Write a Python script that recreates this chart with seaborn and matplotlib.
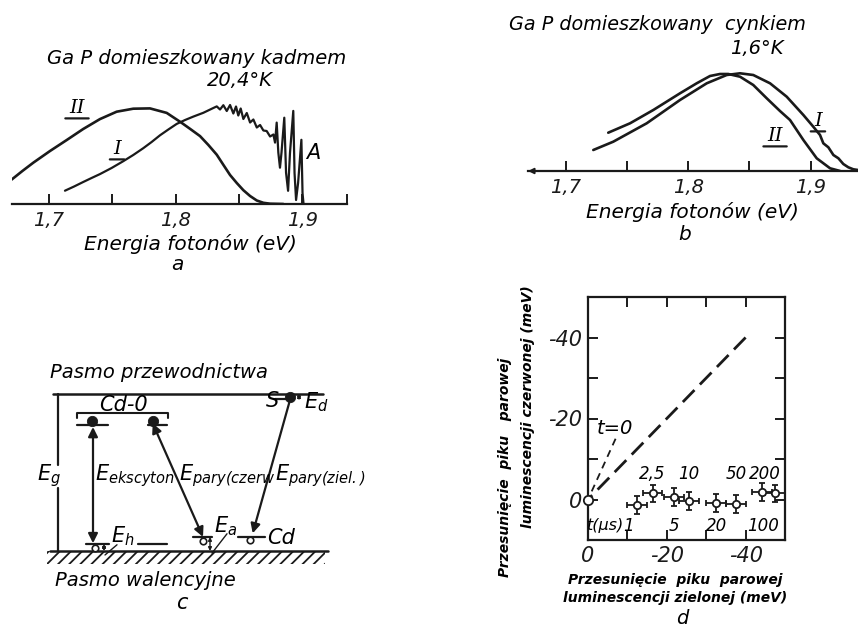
import matplotlib
matplotlib.use("Agg")
import matplotlib.pyplot as plt
from matplotlib.transforms import offset_copy
from matplotlib.ticker import FixedLocator, FixedFormatter
import seaborn as sns
import pandas as pd

# ---------------- data ----------------
# panel a: GaP doped with Cd, 20.4 K  (photon energy eV, relative intensity)
a_II_E = [1.6705, 1.6790, 1.6876, 1.7008, 1.7139, 1.7270, 1.7402, 1.7534, 1.7665, 1.7797,
          1.7929, 1.8042, 1.8115, 1.8192, 1.8258, 1.8324, 1.8377, 1.8429, 1.8482, 1.8534,
          1.8587, 1.8640, 1.8692, 1.8745, 1.8850]
a_II_I = [24.4, 33.0, 41.3, 53.0, 63.9, 75.0, 84.9, 92.3, 95.3, 95.6,
          91.1, 81.6, 75.0, 67.9, 59.0, 49.3, 39.0, 29.0, 21.0, 13.8,
          8.0, 3.5, 1.2, 0.3, 0.0]
a_I_E = [1.7126, 1.7198, 1.7270, 1.7336, 1.7402, 1.7494, 1.7586, 1.7665, 1.7744, 1.7810,
         1.7876, 1.7942, 1.8008, 1.8074, 1.8139, 1.8218, 1.8297, 1.8324, 1.8350, 1.8376,
         1.8403, 1.8429, 1.8455, 1.8476, 1.8494, 1.8513, 1.8534, 1.8561, 1.8587, 1.8613,
         1.8640, 1.8666, 1.8692, 1.8718, 1.8745, 1.8771, 1.8784, 1.8797, 1.8810, 1.8823,
         1.8835, 1.8857, 1.8871, 1.8887, 1.8902, 1.8928, 1.8938, 1.8950, 1.8966, 1.8992,
         1.9001, 1.9009]
a_I_I = [13.3, 17.5, 22.0, 26.0, 29.9, 36.0, 42.8, 49.0, 55.8, 62.0,
         68.7, 74.5, 80.1, 84.0, 87.4, 91.2, 96.0, 97.6, 94.5, 98.8,
         93.0, 99.0, 90.5, 97.5, 88.5, 95.5, 85.0, 91.0, 81.5, 84.5,
         76.5, 79.0, 73.5, 73.0, 67.5, 69.5, 61.4, 81.4, 51.4, 36.3,
         51.3, 86.3, 31.2, 13.2, 51.1, 93.1, 31.0, 4.0, 21.0, 64.2,
         10.9, 0.0]
a_ticks = [1.7, 1.75, 1.8, 1.85, 1.9, 1.935]
a_ticklabels = ["1,7", "", "1,8", "", "1,9", ""]

# panel b: GaP doped with Zn, 1.6 K
b_II_E = [1.7348, 1.7526, 1.7716, 1.7934, 1.8070, 1.8179, 1.8260, 1.8328, 1.8424, 1.8532,
          1.8642, 1.8750, 1.8832, 1.8941, 1.9050, 1.9159, 1.9241]
b_II_I = [38.3, 47.7, 61.0, 77.7, 87.7, 95.0, 97.0, 97.0, 94.3, 86.0,
          72.7, 60.0, 51.0, 31.0, 12.7, 2.7, 0.0]
b_I_E = [1.7226, 1.7389, 1.7662, 1.7934, 1.8152, 1.8315, 1.8424, 1.8532, 1.8669, 1.8805,
         1.8941, 1.9022, 1.9077, 1.9104, 1.9145, 1.9186, 1.9227, 1.9267, 1.9308, 1.9349,
         1.9387]
b_I_I = [21.0, 29.3, 47.7, 71.0, 87.7, 96.0, 97.7, 96.0, 87.7, 74.3,
         56.0, 44.3, 36.0, 27.7, 23.7, 16.0, 12.7, 7.0, 3.7, 1.7, 1.0]
b_ticks = [1.7, 1.75, 1.8, 1.85, 1.9]
b_ticklabels = ["1,7", "", "1,8", "", "1,9"]

# panel d: peak shift of red vs green pair luminescence (meV)
d_green = [-12.4, -16.4, -21.8, -25.6, -32.4, -37.5, -44.2, -47.5]
d_red = [1.4, -1.5, -0.7, 0.3, 0.8, 1.1, -1.9, -1.5]
d_xerr = [2.5, 2.5, 2.5, 2.5, 2.5, 2.5, 2.5, 2.5]
d_yerr = [2.2, 2.2, 2.2, 2.2, 2.2, 2.2, 2.2, 2.2]
d_times = ["1", "2,5", "5", "10", "20", "50", "100", "200"]
d_time_x = [-10.4, -16.4, -21.8, -25.6, -32.7, -37.7, -44.4, -44.8]
d_time_y = [6.5, -6.3, 6.5, -6.3, 6.5, -6.3, 6.5, -6.3]
d_long_x = [0, -40]
d_long_y = [0, -40]
d_t0_x = [0, -7]
d_t0_y = [0, -15]
d_ticks = [0, -10, -20, -30, -40]
d_ticklabels = ["0", "", "-20", "", "-40"]

# panel c: level scheme (x: position, y: energy, 0 = valence band, 1 = conduction band)
c_cond_x = [53, 323]
c_val_x = [50, 328]
c_levels = {  # name: (x0, x1, y)
    "cd0_a": (77, 108, 0.80), "cd0_b": (148, 167, 0.80), "S": (275, 293, 0.968),
    "Eh": (86, 109, 0.045), "Eh2": (138, 167, 0.045), "Ea": (193, 212, 0.09),
    "Cd": (238, 265, 0.09)}
c_electrons_x = [92, 153, 290]
c_electrons_y = [0.83, 0.83, 0.98]
c_holes_x = [95, 203, 250]
c_holes_y = [0.022, 0.062, 0.07]

# ---------------- figure ----------------
sns.set_theme(style="white")
plt.rcParams["font.family"] = ["DejaVu Sans"]
plt.rcParams["font.style"] = "italic"
plt.rcParams["mathtext.fontset"] = "dejavusans"
plt.rcParams["hatch.linewidth"] = 1.3
plt.rcParams["text.color"] = "black"
plt.rcParams["axes.labelcolor"] = "black"
plt.rcParams["xtick.color"] = "black"
plt.rcParams["ytick.color"] = "black"
plt.rcParams["axes.edgecolor"] = "black"

W, H = 858, 628
fig = plt.figure(figsize=(W / 100, H / 100), dpi=100)
fig.patch.set_facecolor("white")


def rect(x0, y0, x1, y1):
    return [x0 / W, 1 - y1 / H, (x1 - x0) / W, (y1 - y0) / H]


def ftext(x, y, s, **kw):
    kw.setdefault("ha", "center")
    kw.setdefault("va", "center")
    kw.setdefault("color", "black")
    fig.text(x / W, 1 - y / H, s, **kw)


def underlined(ax, x, y, s, size=14):
    ax.text(x, y, s, ha="center", va="bottom", fontsize=size, family="DejaVu Serif",
            style="italic", color="black")
    w = 3.2 * len(s) + 2
    ax.annotate("", xy=(x, y), xytext=(x, y),
                xycoords=offset_copy(ax.transData, fig=fig, x=w, y=-1, units="points"),
                textcoords=offset_copy(ax.transData, fig=fig, x=-w, y=-1, units="points"),
                arrowprops=dict(arrowstyle="-", lw=1.6, color="k", shrinkA=0, shrinkB=0))


def spectrum_axes(r, xlim, ylim, ticks, labels):
    ax = fig.add_axes(r)
    ax.set_facecolor("none")
    ax.set_xlim(*xlim)
    ax.set_ylim(*ylim)
    for s in ["top", "left", "right"]:
        ax.spines[s].set_visible(False)
    ax.spines["bottom"].set_linewidth(1.6)
    ax.spines["bottom"].set_color("k")
    ax.xaxis.set_major_locator(FixedLocator(ticks))
    ax.xaxis.set_major_formatter(FixedFormatter(labels))
    ax.tick_params(axis="x", direction="in", length=7, width=1.4, labelsize=14, pad=5,
                   bottom=True, colors="k")
    ax.set_yticks([])
    return ax


# ----- panel a -----
ax_a = spectrum_axes(rect(12, 94, 347, 204), (1.6708, 1.9352), (0, 110), a_ticks, a_ticklabels)
sns.lineplot(x=a_II_E, y=a_II_I, ax=ax_a, color="k", lw=1.9, sort=False, estimator=None)
sns.lineplot(x=a_I_E, y=a_I_I, ax=ax_a, color="k", lw=1.6, sort=False, estimator=None)
ax_a.set_xlabel("")
underlined(ax_a, 1.7221, 87, "II")
underlined(ax_a, 1.7537, 46, "I")
ax_a.text(1.9084, 51, "A", ha="center", va="center", fontsize=15, color="black")
ftext(197, 58, "Ga P domieszkowany kadmem", fontsize=14)
ftext(240, 80, "20,4°K", fontsize=14)
ftext(190, 244, "Energia fotonów (eV)", fontsize=14.5)
ftext(177, 264, "a", fontsize=14.5)

# ----- panel b -----
ax_b = spectrum_axes(rect(528, 71, 858, 171), (1.6693, 1.9387), (0, 100), b_ticks, b_ticklabels)
sns.lineplot(x=b_II_E, y=b_II_I, ax=ax_b, color="k", lw=1.9, sort=False, estimator=None)
sns.lineplot(x=b_I_E, y=b_I_I, ax=ax_b, color="k", lw=1.9, sort=False, estimator=None)
ax_b.set_xlabel("")
ax_b.annotate("", xy=(0.0, 0.0), xytext=(0.04, 0.0), xycoords="axes fraction",
              textcoords="axes fraction",
              arrowprops=dict(arrowstyle="-|>", lw=1.4, color="k", mutation_scale=8,
                              shrinkA=0, shrinkB=0))
underlined(ax_b, 1.871, 26, "II")
underlined(ax_b, 1.906, 41, "I")
ftext(657, 25, "Ga P domieszkowany  cynkiem", fontsize=13.8)
ftext(757, 48, "1,6°K", fontsize=14)
ftext(692, 212, "Energia fotonów (eV)", fontsize=14.5)
ftext(685, 234, "b", fontsize=14.5)

# ----- panel c -----
ax_c = fig.add_axes(rect(0, 340, 430, 628))
ax_c.set_facecolor("none")
ax_c.set_xlim(0, 430)
ax_c.set_ylim(-0.490, 1.344)
ax_c.axis("off")
band_df = pd.DataFrame({"x": c_cond_x + c_val_x, "y": [1.0, 1.0, 0.0, 0.0],
                        "band": ["c", "c", "v", "v"]})
for b, g in band_df.groupby("band"):
    sns.lineplot(data=g, x="x", y="y", ax=ax_c, color="k", lw=1.8, estimator=None)
ax_c.fill_between([47, 325], [-0.085, -0.085], [0, 0], facecolor="none",
                  edgecolor="k", hatch="///", linewidth=0)
# Eg line with gap for label
ax_c.plot([58, 58], [1.0, 0.55], color="k", lw=1.6)
ax_c.plot([58, 58], [0.40, 0.0], color="k", lw=1.6)
for x0, x1, y in c_levels.values():
    ax_c.plot([x0, x1], [y, y], color="k", lw=1.6)
# Cd-O bracket
ax_c.plot([77, 77, 168, 168], [0.845, 0.88, 0.88, 0.845], color="k", lw=1.5)
sns.scatterplot(x=c_electrons_x, y=c_electrons_y, ax=ax_c, color="k", s=55, zorder=4,
                edgecolor="k")
sns.scatterplot(x=c_holes_x, y=c_holes_y, ax=ax_c, facecolor="white", s=22, zorder=4,
                edgecolor="k", linewidth=1.2)
arrow_kw = dict(color="k", lw=1.6, mutation_scale=14, shrinkA=0, shrinkB=0)
ax_c.annotate("", xy=(93, 0.05), xytext=(93, 0.79),
              arrowprops=dict(arrowstyle="<|-|>", **arrow_kw))
ax_c.annotate("", xy=(203, 0.09), xytext=(152.7, 0.813),
              arrowprops=dict(arrowstyle="<|-|>", **arrow_kw))
ax_c.annotate("", xy=(252.7, 0.113), xytext=(290, 0.962),
              arrowprops=dict(arrowstyle="-|>", **arrow_kw))
small_kw = dict(color="k", lw=1.0, mutation_scale=5, shrinkA=0, shrinkB=0)
ax_c.annotate("", xy=(210, 0.0), xytext=(210, 0.09),
              arrowprops=dict(arrowstyle="<|-|>", **small_kw))
ax_c.annotate("", xy=(299, 1.0), xytext=(299, 0.96),
              arrowprops=dict(arrowstyle="<|-|>", **small_kw))
ax_c.annotate("", xy=(104, 0.045), xytext=(104, 0.0),
              arrowprops=dict(arrowstyle="<|-|>", **small_kw))
ax_c.plot([117, 105], [0.04, -0.025], color="k", lw=1.0)
ax_c.plot([227, 212], [0.11, -0.013], color="k", lw=1.0)

ct = dict(fontsize=15, va="center", color="black")
ax_c.text(50, 1.134, "Pasmo przewodnictwa", ha="left", **{**ct, "fontsize": 14})
ax_c.text(123, 0.93, "Cd-0", ha="center", **ct)
ax_c.text(272, 0.955, "S", ha="center", **ct)
ax_c.text(304, 0.945, r"$E_{d}$", ha="left", **ct)
ax_c.text(37, 0.478, r"$E_{g}$", ha="left", **ct)
ax_c.text(95, 0.478, r"$E_{ekscyton}$", ha="left", **ct)
ax_c.text(179, 0.478, r"$E_{pary(czerw}$", ha="left", **ct)
ax_c.text(275, 0.478, r"$E_{pary(ziel.)}$", ha="left", **ct)
ax_c.text(111, 0.095, r"$E_{h}$", ha="left", **ct)
ax_c.text(214, 0.16, r"$E_{a}$", ha="left", **ct)
ax_c.text(267, 0.083, "Cd", ha="left", **ct)
ax_c.text(55, -0.185, "Pasmo walencyjne", ha="left", **{**ct, "fontsize": 14})
ax_c.text(182, -0.33, "c", ha="center", **ct)

# ----- panel d -----
ax_d = fig.add_axes(rect(588, 297, 785, 540))
ax_d.set_facecolor("none")
sns.lineplot(x=d_long_x, y=d_long_y, ax=ax_d, color="k", lw=2.0, estimator=None)
ax_d.lines[-1].set_dashes([6, 2.8])
sns.lineplot(x=d_t0_x, y=d_t0_y, ax=ax_d, color="k", lw=1.3, estimator=None)
ax_d.lines[-1].set_dashes([4, 3])
ax_d.errorbar(d_green, d_red, xerr=d_xerr, yerr=d_yerr, fmt="none", ecolor="k",
              elinewidth=1.3, capsize=2.5, capthick=1.3, zorder=3)
sns.scatterplot(x=d_green, y=d_red, ax=ax_d, facecolor="white", edgecolor="k",
                linewidth=1.3, s=28, zorder=4)
sns.scatterplot(x=[0], y=[0], ax=ax_d, facecolor="white", edgecolor="k",
                linewidth=1.3, s=45, zorder=5, clip_on=False)
ax_d.set_xlim(0, -50)
ax_d.set_ylim(10, -50)
for s in ax_d.spines.values():
    s.set_linewidth(1.6)
    s.set_color("k")
for axis in (ax_d.xaxis, ax_d.yaxis):
    axis.set_major_locator(FixedLocator(d_ticks))
    axis.set_major_formatter(FixedFormatter(d_ticklabels))
ax_d.tick_params(direction="in", length=7, width=1.4, labelsize=15, pad=4,
                 top=True, right=True, bottom=True, left=True, colors="k")
ax_d.set_xlabel("")
ax_d.set_ylabel("")
for lab, x, y in zip(d_times, d_time_x, d_time_y):
    ax_d.text(x, y, lab, ha="center", va="center", fontsize=12, color="black")
ax_d.text(-4.4, 6.5, "t(µs)", ha="center", va="center", fontsize=11.5, color="black")
ax_d.text(-6.9, -17.6, "t=0", ha="center", va="center", fontsize=14, color="black")

lab_kw = dict(fontsize=10, fontweight="bold")
ftext(675, 580, "Przesunięcie  piku  parowej", **lab_kw)
ftext(675, 598, "luminescencji zielonej (meV)", **lab_kw)
ftext(682, 618, "d", fontsize=14)
ftext(505, 467, "Przesunięcie  piku   parowej", rotation=90, **lab_kw)
ftext(528, 407, "luminescencji czerwonej (meV)", rotation=90, **lab_kw)

fig.savefig("out.png", dpi=100, facecolor="white")
